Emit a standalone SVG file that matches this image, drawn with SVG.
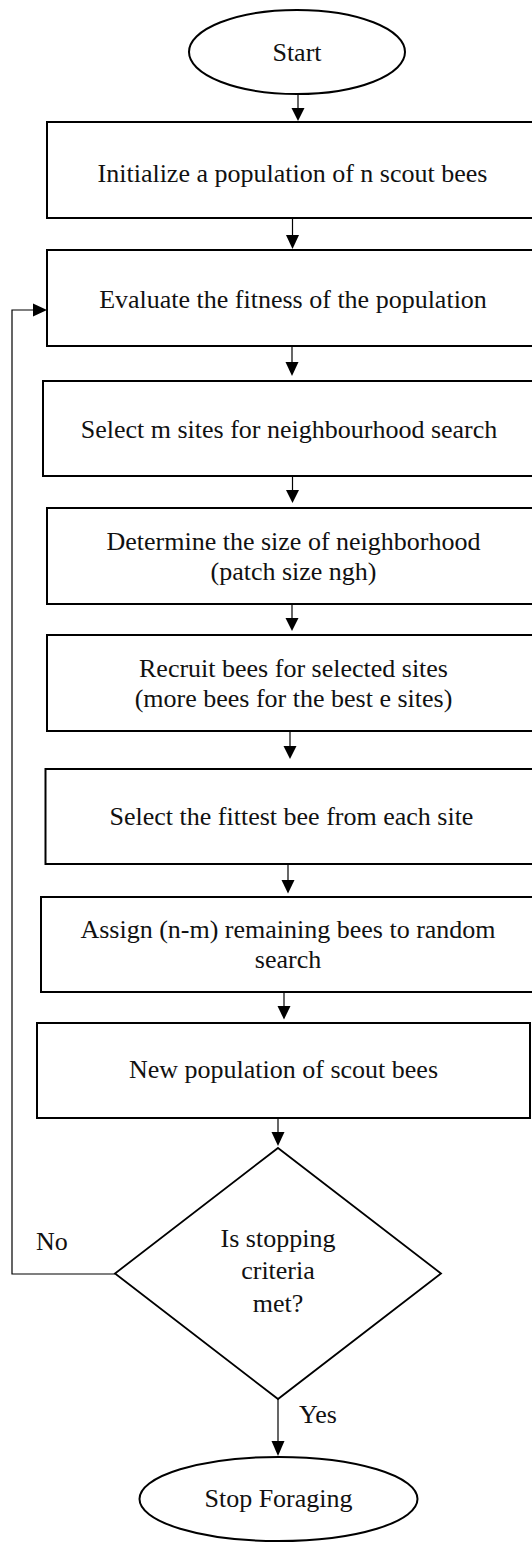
<svg xmlns="http://www.w3.org/2000/svg" width="532" height="1543" viewBox="0 0 532 1543">
<style>
.box{fill:#fff;stroke:#000;stroke-width:2}
.term{fill:#fff;stroke:#000;stroke-width:2}
.dec{fill:#fff;stroke:#000;stroke-width:1.8}
.ln{fill:none;stroke:#000;stroke-width:1.2}
.head{fill:#000;stroke:none}
text{font-family:"Liberation Serif","Times New Roman",serif;font-size:26px;fill:#111;text-anchor:middle}
.lbl{text-anchor:start}
</style>
<rect width="532" height="1543" fill="#fff"/>
<g id="start"><ellipse class="term" cx="297" cy="52" rx="108" ry="42"/><text x="297" y="61">Start</text></g>
<g id="init"><rect class="box" x="47" y="122" width="495" height="96"/><text x="292.5" y="182">Initialize a population of n scout bees</text></g>
<g id="evaluate"><rect class="box" x="47" y="250" width="495" height="96"/><text x="293" y="308">Evaluate the fitness of the population</text></g>
<g id="select-m"><rect class="box" x="43" y="381" width="499" height="95"/><text x="289" y="438">Select m sites for neighbourhood search</text></g>
<g id="determine"><rect class="box" x="47" y="508" width="495" height="96"/><text x="293.5" y="550">Determine the size of neighborhood</text><text x="293.5" y="580">(patch size ngh)</text></g>
<g id="recruit"><rect class="box" x="47" y="635" width="495" height="96"/><text x="293.5" y="677">Recruit bees for selected sites</text><text x="293.5" y="707">(more bees for the best e sites)</text></g>
<g id="fittest"><rect class="box" x="45.5" y="769" width="496" height="95"/><text x="291.5" y="825">Select the fittest bee from each site</text></g>
<g id="assign"><rect class="box" x="41" y="897" width="501" height="95"/><text x="288" y="938">Assign (n-m) remaining bees to random</text><text x="288" y="968">search</text></g>
<g id="newpop"><rect class="box" x="37" y="1023" width="493" height="95"/><text x="283.5" y="1078">New population of scout bees</text></g>
<g id="decision"><polygon class="dec" points="278,1148 441,1273.5 278,1399 115,1273.5"/><text x="278" y="1247">Is stopping</text><text x="278" y="1279">criteria</text><text x="278" y="1312">met?</text></g>
<g id="stop"><ellipse class="term" cx="278.5" cy="1499" rx="139" ry="42"/><text x="278.5" y="1507">Stop Foraging</text></g>
<g id="connectors">
<line class="ln" x1="298" y1="94" x2="298" y2="110"/><polygon class="head" points="291.5,108 304.5,108 298,121"/>
<line class="ln" x1="292.5" y1="218" x2="292.5" y2="237"/><polygon class="head" points="286,235 299,235 292.5,249"/>
<line class="ln" x1="292" y1="346" x2="292" y2="364"/><polygon class="head" points="285.5,362 298.5,362 292,376"/>
<line class="ln" x1="292.5" y1="476" x2="292.5" y2="492"/><polygon class="head" points="286,490 299,490 292.5,503"/>
<line class="ln" x1="292" y1="604" x2="292" y2="620"/><polygon class="head" points="285.5,618 298.5,618 292,631"/>
<line class="ln" x1="290" y1="731" x2="290" y2="748"/><polygon class="head" points="283.5,746 296.5,746 290,759"/>
<line class="ln" x1="288" y1="864" x2="288" y2="882"/><polygon class="head" points="281.5,880 294.5,880 288,893.5"/>
<line class="ln" x1="284" y1="992" x2="284" y2="1008"/><polygon class="head" points="277.5,1006 290.5,1006 284,1019.5"/>
<line class="ln" x1="278" y1="1118" x2="278" y2="1134"/><polygon class="head" points="271.5,1132 284.5,1132 278,1146"/>
<line class="ln" x1="278" y1="1399" x2="278" y2="1443"/><polygon class="head" points="271.5,1441 284.5,1441 278,1456"/>
<polyline class="ln" points="115,1274 12,1274 12,310 35,310"/><polygon class="head" points="33,303.5 33,316.5 47,310"/>
<text class="lbl" x="36" y="1250">No</text>
<text class="lbl" x="299" y="1423">Yes</text>
</g>
</svg>
